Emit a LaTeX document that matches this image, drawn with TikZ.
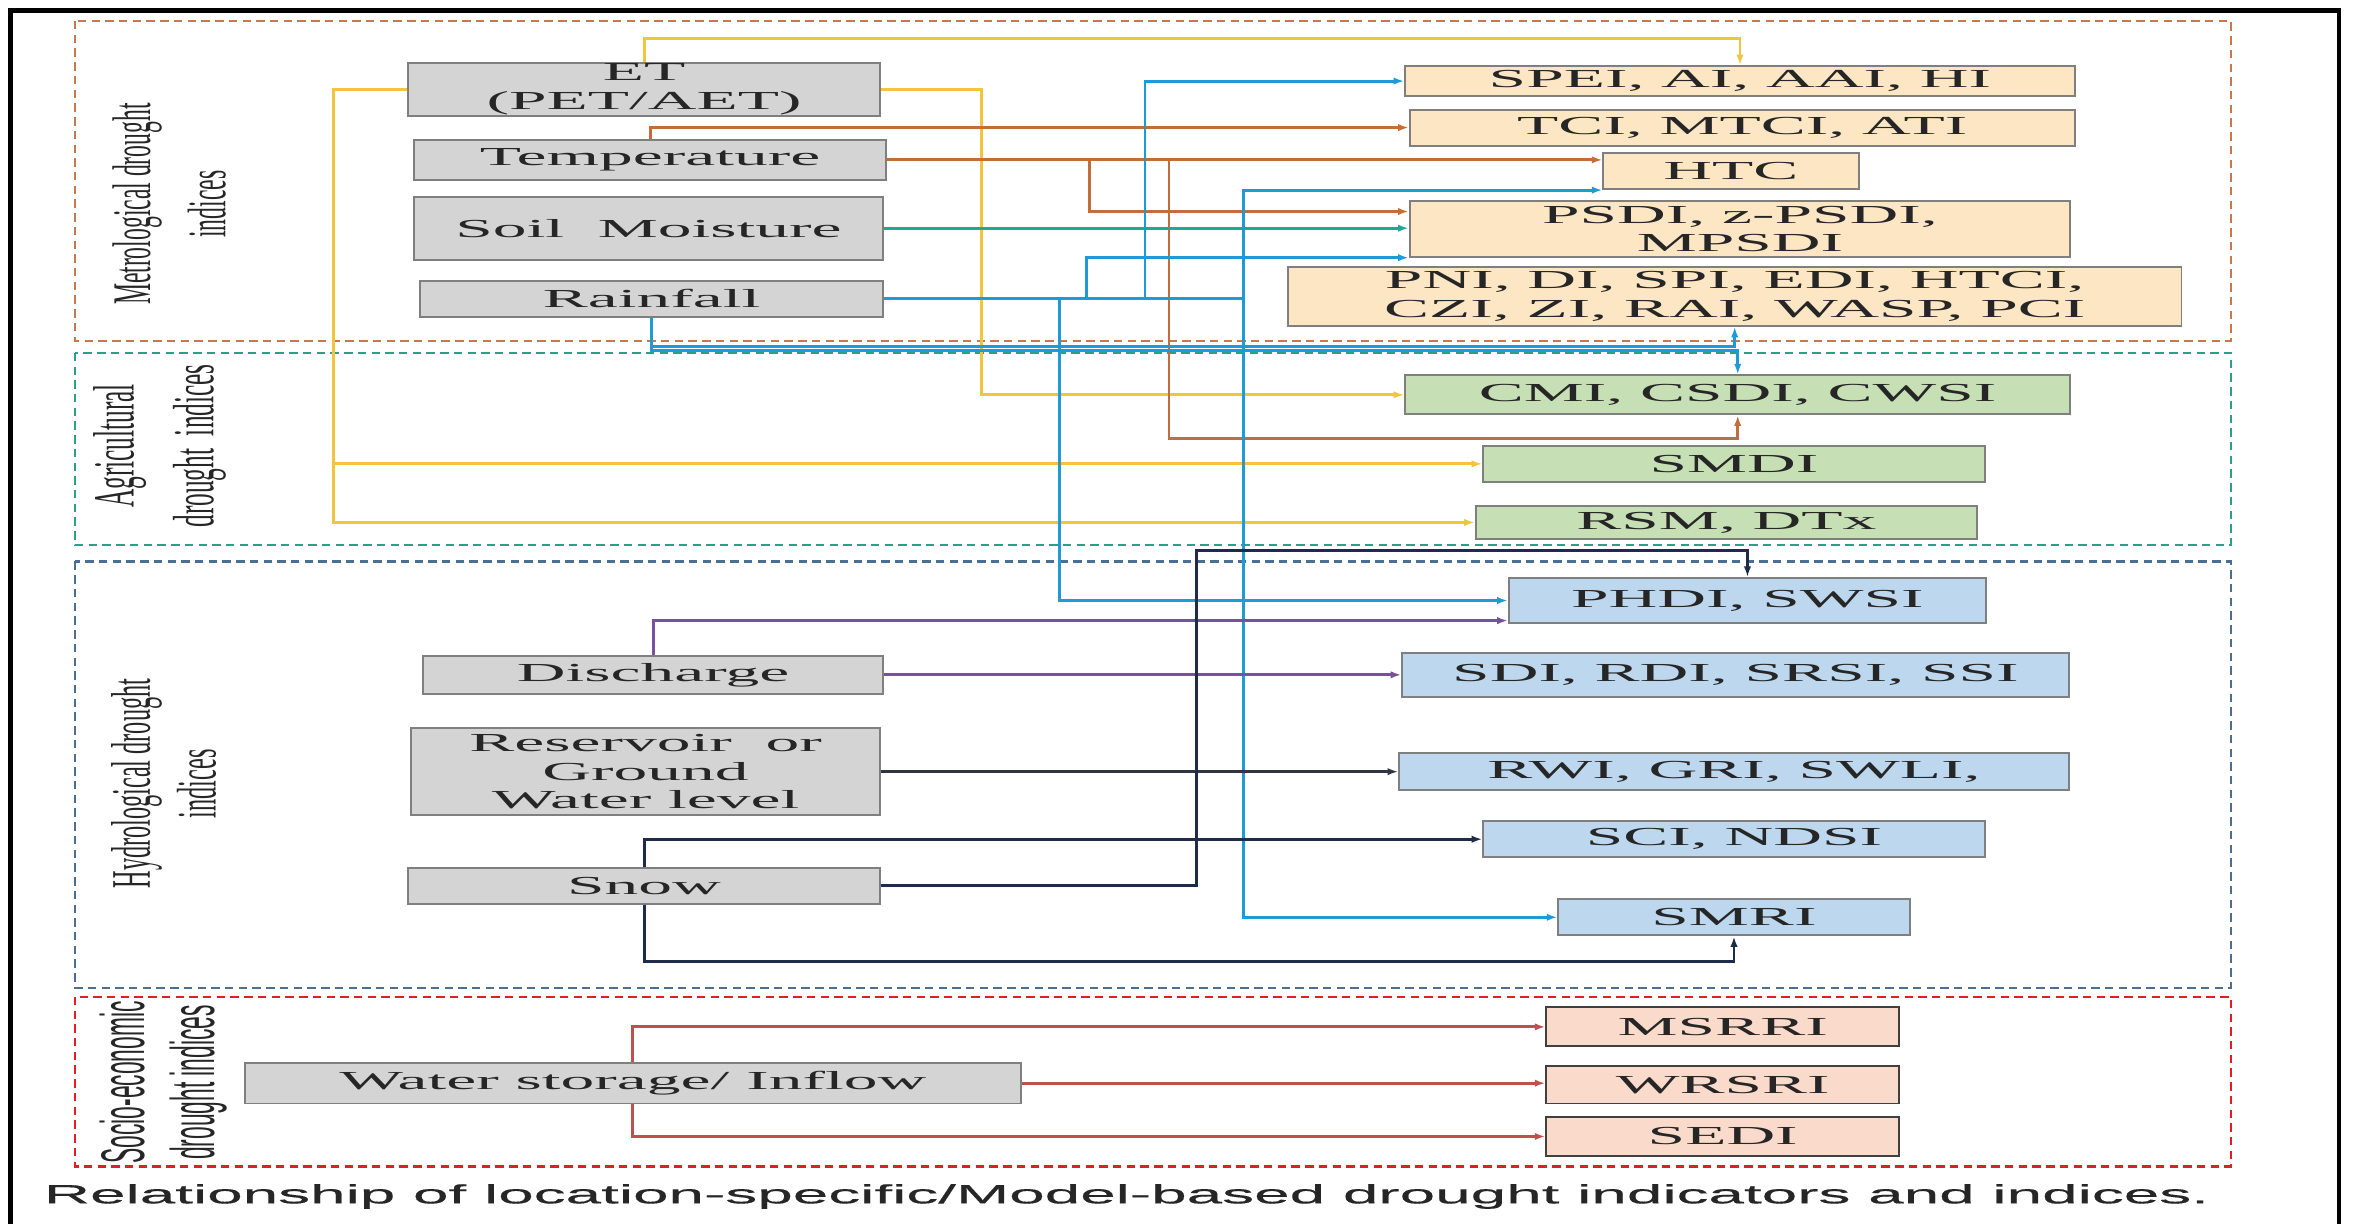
\documentclass[tikz,border=0pt]{standalone}
\usepackage{fontspec}
\setmainfont{Liberation Serif}[FakeStretch=2.6]
\newfontfamily\labelfont{Liberation Serif}
\newfontfamily\socfont{Liberation Sans}
\newfontfamily\capfont{Liberation Sans}[FakeStretch=2.42, FakeBold=0.5]
\usetikzlibrary{arrows.meta}

\definecolor{srcfill}{HTML}{D4D4D4}
\definecolor{metfill}{HTML}{FCE6C4}
\definecolor{agrfill}{HTML}{C6DFB5}
\definecolor{hydfill}{HTML}{BDD7EE}
\definecolor{socfill}{HTML}{FADBCB}
\definecolor{boxline}{HTML}{7F7F7F}
\definecolor{etcol}{HTML}{F2C53D}
\definecolor{tempcol}{HTML}{C26E3B}
\definecolor{soilcol}{HTML}{1FA79B}
\definecolor{raincol}{HTML}{1E9AD6}
\definecolor{dischcol}{HTML}{7A4F9C}
\definecolor{resvcol}{HTML}{2F3542}
\definecolor{snowcol}{HTML}{1E2B4A}
\definecolor{wstocol}{HTML}{C0504D}
\definecolor{metzone}{HTML}{C8784A}
\definecolor{agrzone}{HTML}{2E9E8A}
\definecolor{hydzone}{HTML}{4A6E94}
\definecolor{soczone}{HTML}{E02020}

\begin{document}
\begin{tikzpicture}[x=0.025cm, y=-0.025cm, >={Latex[length=5pt,width=3.5pt]},
  box/.style={draw=boxline, line width=0.9pt, inner sep=0pt, align=center, text=black!85,
    font=\fontsize{12.3}{13.4}\selectfont},
  srcbox/.style={box, fill=srcfill},
  metbox/.style={box, fill=metfill},
  agrbox/.style={box, fill=agrfill},
  hydbox/.style={box, fill=hydfill},
  socbox/.style={box, fill=socfill, draw=black!75},
  link/.style={line width=1.4pt, ->},
  zone/.style={line width=1pt, dash pattern=on 4pt off 2.5pt},
  zonelabel/.style={rotate=90, inner sep=0pt, text=black!85}]
\useasboundingbox (0,0) rectangle (1568,815);
\draw[line width=2.2pt] (7,815) -- (7,7) -- (1558,7) -- (1558,815);

% zones
\draw[zone, draw=metzone] (50,14) rectangle (1486,227);
\draw[zone, draw=agrzone] (50,235) rectangle (1486,363);
\draw[zone, draw=hydzone] (50,374) rectangle (1486,658);
\draw[zone, draw=soczone] (50,664) rectangle (1486,777);

\node[zonelabel] (metlab) at (115,136) {\scalebox{1}[2.3]{\labelfont\fontsize{11.2}{15.5}\selectfont
  \begin{tabular}{@{}c@{}}Metrological drought\\indices\end{tabular}}};
\node[zonelabel] (agrlab) at (105,297) {\scalebox{1}[2.3]{\labelfont\fontsize{12}{16.4}\selectfont
  \begin{tabular}{@{}c@{}}Agricultural\\drought\ \ indices\end{tabular}}};
\node[zonelabel] (hydlab) at (113,522) {\scalebox{1}[2.3]{\labelfont\fontsize{11.5}{13.5}\selectfont
  \begin{tabular}{@{}c@{}}Hydrological drought\\indices\end{tabular}}};
\node[zonelabel] (soclab) at (110,721) {\scalebox{1}[2.7]{\socfont\fontsize{10.8}{12.3}\selectfont
  \begin{tabular}{@{}c@{}}Socio-economic\\drought indices\end{tabular}}};

% sources
\node[srcbox, minimum width=7.85cm, minimum height=0.875cm] (et) at (429,59.5) {ET\\(PET/AET)};
\node[srcbox, minimum width=7.85cm, minimum height=0.675cm] (temp) at (433,106.5) {Temperature};
\node[srcbox, minimum width=7.8cm, minimum height=1.05cm] (soil) at (432,152) {Soil\ \ Moisture};
\node[srcbox, minimum width=7.7cm, minimum height=0.6cm] (rain) at (434,199) {Rainfall};
\node[srcbox, minimum width=7.65cm, minimum height=0.625cm] (disch) at (435,449.5) {Discharge};
\node[srcbox, minimum width=7.8cm, minimum height=1.45cm] (resv) at (430,514) {Reservoir\ \ or\\Ground\\Water level};
\node[srcbox, minimum width=7.85cm, minimum height=0.6cm] (snow) at (429,590) {Snow};
\node[srcbox, minimum width=12.925cm, minimum height=0.675cm] (wsto) at (421.5,721.5) {Water storage/ Inflow};

% metrological indices
\node[metbox, minimum width=11.15cm, minimum height=0.5cm] (spei) at (1159,54) {SPEI, AI, AAI, HI};
\node[metbox, minimum width=11.075cm, minimum height=0.6cm] (tci) at (1160.5,85) {TCI, MTCI, ATI};
\node[metbox, minimum width=4.25cm, minimum height=0.6cm] (htc) at (1153,114) {HTC};
\node[metbox, minimum width=11cm, minimum height=0.925cm] (psdi) at (1159,152.5) {PSDI, z-PSDI,\\MPSDI};
\node[metbox, minimum width=14.875cm, minimum height=0.975cm] (pni) at (1155.5,197.5) {PNI, DI, SPI, EDI, HTCI,\\CZI, ZI, RAI, WASP, PCI};

% agricultural indices
\node[agrbox, minimum width=11.075cm, minimum height=0.65cm] (cmi) at (1157.5,263) {CMI, CSDI, CWSI};
\node[agrbox, minimum width=8.35cm, minimum height=0.6cm] (smdi) at (1155,309) {SMDI};
\node[agrbox, minimum width=8.35cm, minimum height=0.55cm] (rsm) at (1150,348) {RSM, DTx};

% hydrological indices
\node[hydbox, minimum width=7.95cm, minimum height=0.75cm] (phdi) at (1164,400) {PHDI, SWSI};
\node[hydbox, minimum width=11.1cm, minimum height=0.725cm] (sdi) at (1156,449.5) {SDI, RDI, SRSI, SSI};
\node[hydbox, minimum width=11.15cm, minimum height=0.625cm] (rwi) at (1155,514) {RWI, GRI, SWLI,};
\node[hydbox, minimum width=8.35cm, minimum height=0.6cm] (sci) at (1155,559) {SCI, NDSI};
\node[hydbox, minimum width=5.85cm, minimum height=0.6cm] (smri) at (1155,611) {SMRI};

% socio-economic indices
\node[socbox, minimum width=5.875cm, minimum height=0.65cm] (msrri) at (1147.5,684) {MSRRI};
\node[socbox, minimum width=5.875cm, minimum height=0.625cm] (wrsri) at (1147.5,722.5) {WRSRI};
\node[socbox, minimum width=5.875cm, minimum height=0.65cm] (sedi) at (1147.5,757) {SEDI};

\node[anchor=west, inner sep=0pt, font=\capfont\fontsize{12.5}{14}\selectfont, text=black!85] (cap) at (29,797)
  {Relationship of location-specific/Model-based drought indicators and indices.};

% ET
\draw[link, etcol] (et.north) -- ++(0,-16) -| (spei.north);
\draw[link, etcol] (et.east) -- ++(67,0) |- (cmi.west);
\draw[link, etcol] (et.west) -- ++(-49,0) |- (smdi.west);
\draw[link, etcol] (et.west) -- ++(-49,0) |- (rsm.west);
% temperature
\draw[link, tempcol] (temp.north) |- (tci.west);
\draw[link, tempcol] (temp.east) -- (temp.east -| htc.west);
\draw[link, tempcol] (temp.east) -- ++(135,0) |- ([yshift=0.29cm]psdi.west);
\draw[link, tempcol] (temp.east) -- ++(188,0) -- ++(0,185.5) -| (cmi.south);
% soil moisture
\draw[link, soilcol] (soil.east) -- (soil.east -| psdi.west);
% rainfall
\draw[link, raincol] (rain.east) -- ++(174,0) |- (spei.west);
\draw[link, raincol] (rain.east) -- ++(239.5,0) |- (htc.south west);
\draw[link, raincol] (rain.east) -- ++(135,0) |- (psdi.south west);
\draw[link, raincol] (rain.east) -- ++(117,0) |- (phdi.west);
\draw[link, raincol] (rain.east) -- ++(239.5,0) |- (smri.west);
\draw[link, raincol] (rain.south) -- ++(0,19) -| (pni.south);
\draw[link, raincol] (rain.south) -- ++(0,22) -| (cmi.north);
% discharge
\draw[link, dischcol] (disch.north) |- ([yshift=-0.335cm]phdi.west);
\draw[link, dischcol] (disch.east) -- (sdi.west);
% reservoir
\draw[link, resvcol] (resv.east) -- (resv.east -| rwi.west);
% snow
\draw[link, snowcol] (snow.north) |- (sci.west);
\draw[link, snowcol] (snow.east) -| (797,367) -| (phdi.north);
\draw[link, snowcol] (snow.south) -- ++(0,38) -| (smri.south);
% water storage
\draw[link, wstocol] (wsto.north) |- (msrri.west);
\draw[link, wstocol] (wsto.east) -- (wsto.east -| wrsri.west);
\draw[link, wstocol] (wsto.south) |- (sedi.west);
\end{tikzpicture}
\end{document}
